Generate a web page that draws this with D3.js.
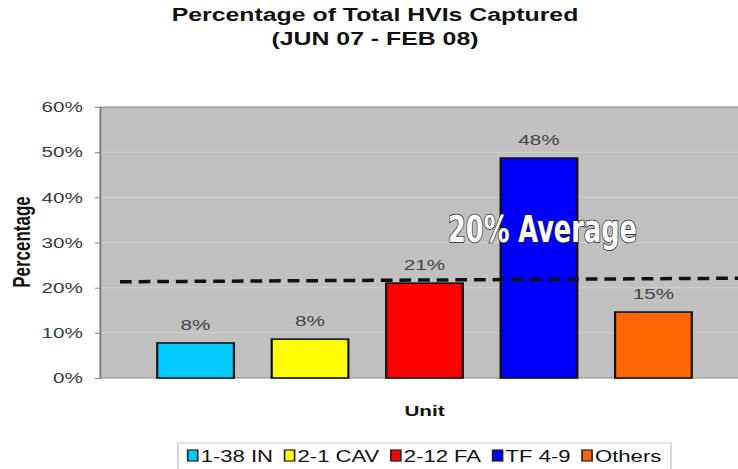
<!DOCTYPE html>
<html>
<head>
<meta charset="utf-8">
<script src="https://d3js.org/d3.v7.min.js"></script>
<style>
    body { margin: 0; background: #fff; }
    svg { display: block; }
    .axis text { font-family: Arial, "Liberation Sans", sans-serif; }
</style>
</head>
<body>
<div id="chart"></div>
<script>
var units = ["1-38 IN", "2-1 CAV", "2-12 FA", "TF 4-9", "Others"];
var captured = [0.0775, 0.086, 0.21, 0.487, 0.146];
var labels = ["8%", "8%", "21%", "48%", "15%"];
var barColors = ["#00ccff", "#ffff00", "#ff0000", "#0000ff", "#ff6600"];
var yTicks = [0, 0.1, 0.2, 0.3, 0.4, 0.5, 0.6];
var avgLine = [0.213, 0.221];
var avgText = "20% Average";
var titleLines = ["Percentage of Total HVIs Captured", "(JUN 07 - FEB 08)"];

var width = 738;
var height = 469;
// the old picture is stretched sideways, so everything is drawn narrow and scaled
var sx = 1.38;
var innerW = width / sx;
var plotLeft = 100 / sx;
var plotRight = 749 / sx;
var plotTop = 107;
var plotBottom = 378;
var font = "Arial, 'Liberation Sans', sans-serif";

var svg = d3.select("#chart").append("svg")
    .attr("width", width)
    .attr("height", height);

var g = svg.append("g")
    .attr("transform", "scale(" + sx + ",1)");

var xScale = d3.scaleBand()
    .domain(units)
    .range([plotLeft, plotRight])
    .paddingInner(0.33)
    .paddingOuter(0.5);

var yScale = d3.scaleLinear()
    .domain([0, 0.6])
    .range([plotBottom, plotTop]);

// plot background
g.append("rect")
    .attr("x", plotLeft)
    .attr("y", yScale(0.6))
    .attr("width", innerW - plotLeft + 5)
    .attr("height", yScale(0) - yScale(0.6))
    .style("fill", "#c0c0c0")
    .style("stroke", "#8a8a8a")
    .style("stroke-width", 1);

g.append("g")
    .selectAll("line")
    .data(yTicks.slice(1, -1))
    .enter()
    .append("line")
    .attr("x1", plotLeft)
    .attr("x2", innerW + 5)
    .attr("y1", function(d){ return yScale(d); })
    .attr("y2", function(d){ return yScale(d); })
    .style("stroke", "#d2d2d2")
    .style("stroke-width", 1);

var yAxis = g.append("g")
    .attr("class", "axis")
    .attr("transform", "translate(" + plotLeft + ",0)")
    .call(d3.axisLeft(yScale)
        .tickValues(yTicks)
        .tickFormat(d3.format(".0%"))
        .tickSize(3.6)
        .tickPadding(8.8));
yAxis.select(".domain").style("stroke", "#808080");
yAxis.selectAll(".tick line").style("stroke", "#808080");
yAxis.selectAll("text")
    .style("font-size", "15px")
    .style("fill", "#3a3a3a");

g.selectAll("rect.bar")
    .data(units)
    .enter()
    .append("rect")
    .attr("class", "bar")
    .attr("x", function(d){ return xScale(d); })
    .attr("y", function(d, i){ return yScale(captured[i]); })
    .attr("width", xScale.bandwidth())
    .attr("height", function(d, i){ return yScale(0) - yScale(captured[i]); })
    .style("fill", function(d, i){ return barColors[i]; })
    .style("stroke", "#111")
    .style("stroke-width", 1.6);

g.selectAll("text.val")
    .data(units)
    .enter()
    .append("text")
    .attr("class", "val")
    .attr("x", function(d){ return xScale(d) + xScale.bandwidth() / 2; })
    .attr("y", function(d, i){ return yScale(captured[i]) - 13; })
    .attr("text-anchor", "middle")
    .style("font-family", font)
    .style("font-size", "15px")
    .style("fill", "#444")
    .text(function(d, i){ return labels[i]; });

// dashed average line
var avgX = d3.scaleLinear().domain([0, 1]).range([120 / sx, innerW + 5]);
g.append("path")
    .datum(avgLine)
    .attr("d", d3.line()
        .x(function(d, i){ return avgX(i); })
        .y(function(d){ return yScale(d); }))
    .style("fill", "none")
    .style("stroke", "#111")
    .style("stroke-width", 3.5)
    .style("stroke-dasharray", "8.5,5");

// titles
g.selectAll("text.title")
    .data(titleLines)
    .enter()
    .append("text")
    .attr("class", "title")
    .attr("x", 375 / sx)
    .attr("y", function(d, i){ return 21.5 + i * 24; })
    .attr("text-anchor", "middle")
    .style("font-family", font)
    .style("font-size", "18px")
    .style("font-weight", "bold")
    .style("fill", "#111")
    .text(function(d){ return d; });

g.append("text")
    .attr("transform", "translate(" + (30 / sx) + "," + 242 + ") rotate(-90)")
    .attr("text-anchor", "middle")
    .style("font-family", font)
    .style("font-size", "17px")
    .style("font-weight", "bold")
    .style("fill", "#111")
    .text("Percentage");

g.append("text")
    .attr("x", (plotLeft + plotRight) / 2)
    .attr("y", 416)
    .attr("text-anchor", "middle")
    .style("font-family", font)
    .style("font-size", "15px")
    .style("font-weight", "bold")
    .style("fill", "#111")
    .text("Unit");

// legend
var legend = g.append("g");
var swW = 10 / sx;
var textOff = 13 / sx;
var gap = 11.5 / sx;
var items = legend.selectAll("g.item")
    .data(units)
    .enter()
    .append("g")
    .attr("class", "item");
items.append("rect")
    .attr("y", 450)
    .attr("width", swW)
    .attr("height", 11)
    .style("fill", function(d, i){ return barColors[i]; })
    .style("stroke", "#222")
    .style("stroke-width", 1.2);
items.append("text")
    .attr("x", textOff)
    .attr("y", 462)
    .style("font-family", font)
    .style("font-size", "16px")
    .style("fill", "#111")
    .text(function(d){ return d; });

var pos = 0;
var offsets = [];
items.each(function(){
    offsets.push(pos);
    pos += textOff + d3.select(this).select("text").node().getComputedTextLength() + gap;
});
var legendW = pos - gap;
var legendX = (plotLeft + plotRight) / 2 - legendW / 2;
items.attr("transform", function(d, i){ return "translate(" + (legendX + offsets[i]) + ",0)"; });

legend.insert("rect", ":first-child")
    .attr("x", legendX - 7)
    .attr("y", 443)
    .attr("width", legendW + 14)
    .attr("height", 40)
    .style("fill", "#fff")
    .style("stroke", "#c8c8c8")
    .style("stroke-width", 1);

// pasted-on caption, not stretched
svg.append("text")
    .attr("x", 448)
    .attr("y", 242)
    .attr("textLength", 189)
    .attr("lengthAdjust", "spacingAndGlyphs")
    .style("font-family", "'Liberation Sans Narrow', 'DejaVu Sans Condensed', Arial, sans-serif")
    .style("font-size", "37px")
    .style("font-weight", "bold")
    .style("fill", "#fff")
    .style("stroke", "#222")
    .style("stroke-width", 1.6)
    .style("paint-order", "stroke")
    .text(avgText);
</script>
</body>
</html>
